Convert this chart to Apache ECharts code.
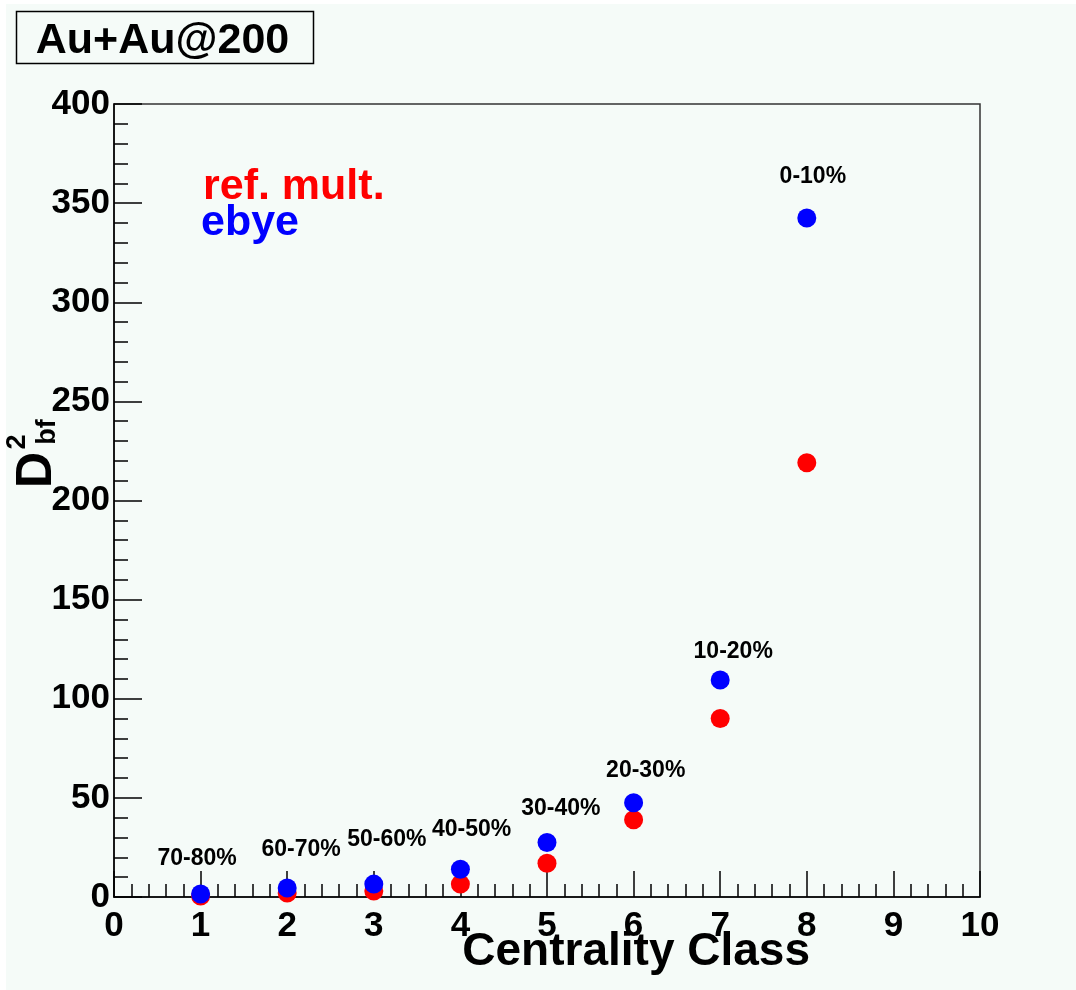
<!DOCTYPE html>
<html>
<head>
<meta charset="utf-8">
<script src="https://cdn.jsdelivr.net/npm/echarts@6/dist/echarts.min.js"></script>
<style>
  html, body { margin: 0; padding: 0; background: #ffffff; }
  #chart { position: absolute; left: 6px; top: 4px; width: 1070px; height: 986px; }
</style>
</head>
<body>
<div id="chart"></div>
<script>
// centrality classes (x) and D^2_bf values
var classes = [1, 2, 3, 4, 5, 6, 7, 8];
var refMult = [0.5, 2, 3, 6.5, 17, 39, 90, 219];
var ebye = [1.5, 4.5, 6.5, 14, 27.5, 47.5, 109.5, 342.5];

// centrality bin annotations, placed in data coordinates
var binNames = ['70-80%', '60-70%', '50-60%', '40-50%', '30-40%', '20-30%', '10-20%', '0-10%'];
var binLabelX = [0.96, 2.16, 3.15, 4.13, 5.16, 6.14, 7.15, 8.07];
var binLabelY = [19.2, 23.7, 28.7, 33.8, 44.4, 63.6, 123.6, 363.2];

var FONT = '"Liberation Sans", Arial, Helvetica, sans-serif';

var chart = echarts.init(document.getElementById('chart'));

function pairs(xs, ys) {
    return xs.map(function (x, i) { return [x, ys[i]]; });
}

var option = {
    backgroundColor: '#f5fbf8',
    animation: false,
    grid: {
        left: 108, top: 100, right: 96, bottom: 93,
        show: true, borderColor: '#333', borderWidth: 1.5,
        backgroundColor: 'transparent'
    },
    xAxis: {
        type: 'value', min: 0, max: 10, interval: 1,
        axisLine: { onZero: false, lineStyle: { color: '#000', width: 1.5 } },
        axisTick: { inside: true, length: 26, lineStyle: { color: '#000', width: 1.5 } },
        minorTick: { show: true, splitNumber: 5, length: 13, lineStyle: { color: '#000', width: 1.5 } },
        splitLine: { show: false },
        axisLabel: { color: '#000', fontFamily: FONT, fontWeight: 'bold', fontSize: 35, margin: 12 }
    },
    yAxis: {
        type: 'value', min: 0, max: 400, interval: 50,
        axisLine: { show: true, onZero: false, lineStyle: { color: '#000', width: 1.5 } },
        axisTick: { show: true, inside: true, length: 28, lineStyle: { color: '#000', width: 1.5 } },
        minorTick: { show: true, splitNumber: 5, length: 14, lineStyle: { color: '#000', width: 1.5 } },
        splitLine: { show: false },
        axisLabel: { color: '#000', fontFamily: FONT, fontWeight: 'bold', fontSize: 35, margin: 4 }
    },
    series: [
        {
            name: 'ref. mult.', type: 'scatter', symbol: 'circle', symbolSize: 19,
            itemStyle: { color: '#ff0000', opacity: 1 }, z: 3,
            data: pairs(classes, refMult)
        },
        {
            name: 'ebye', type: 'scatter', symbol: 'circle', symbolSize: 19,
            itemStyle: { color: '#0000ff', opacity: 1 }, z: 4,
            data: pairs(classes, ebye)
        },
        {
            name: 'bins', type: 'scatter', symbolSize: 0, silent: true, z: 5,
            itemStyle: { opacity: 1 },
            label: {
                show: true, position: 'inside', color: '#000', opacity: 1,
                fontFamily: FONT, fontWeight: 'bold', fontSize: 23,
                formatter: function (p) { return p.name; }
            },
            data: binNames.map(function (n, i) {
                return { name: n, value: [binLabelX[i], binLabelY[i]] };
            })
        }
    ],
    graphic: [
        // title box
        {
            type: 'rect', left: 8, top: 5,
            shape: { width: 297, height: 52 },
            style: { fill: 'none', stroke: '#000', lineWidth: 1.5 }
        },
        {
            type: 'text', x: 156.5, y: 37,
            style: { text: 'Au+Au@200', font: 'bold 43px ' + FONT, fill: '#000', align: 'center', verticalAlign: 'middle' }
        },
        // legend texts
        {
            type: 'text', x: 197, y: 183,
            style: { text: 'ref. mult.', font: 'bold 43px ' + FONT, fill: '#ff0000', align: 'left', verticalAlign: 'middle' }
        },
        {
            type: 'text', x: 195, y: 219,
            style: { text: 'ebye', font: 'bold 43px ' + FONT, fill: '#0000ff', align: 'left', verticalAlign: 'middle' }
        },
        // x axis title
        {
            type: 'text', x: 804, y: 948,
            style: { text: 'Centrality Class', font: 'bold 46px ' + FONT, fill: '#000', align: 'right', verticalAlign: 'middle' }
        },
        // y axis title  D^2_bf, rotated
        {
            type: 'text', x: 31, y: 466, rotation: Math.PI / 2,
            style: { text: 'D', font: 'bold 50px ' + FONT, fill: '#000', align: 'center', verticalAlign: 'middle' }
        },
        {
            type: 'text', x: 12, y: 438, rotation: Math.PI / 2,
            style: { text: '2', font: 'bold 27px ' + FONT, fill: '#000', align: 'center', verticalAlign: 'middle' }
        },
        {
            type: 'text', x: 42, y: 428, rotation: Math.PI / 2,
            style: { text: 'bf', font: 'bold 27px ' + FONT, fill: '#000', align: 'center', verticalAlign: 'middle' }
        }
    ]
};

chart.setOption(option);
</script>
</body>
</html>
